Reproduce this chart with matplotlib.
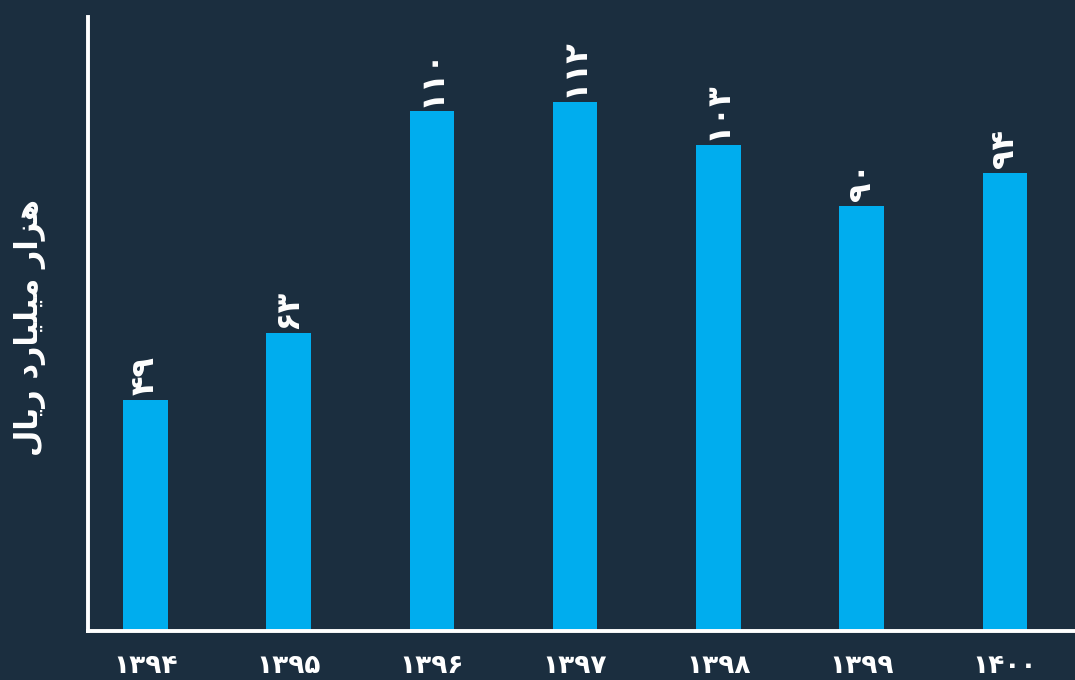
import matplotlib
matplotlib.use('Agg')
import matplotlib.pyplot as plt

# data
years = ['۱۳۹۴', '۱۳۹۵', '۱۳۹۶', '۱۳۹۷', '۱۳۹۸', '۱۳۹۹', '۱۴۰۰']
values = [49, 63, 110, 112, 103, 90, 97]
value_labels = ['۴۹', '۶۳', '۱۱۰', '۱۱۲', '۱۰۳', '۹۰', '۹۴']

# "هزار میلیارد ریال" in presentation forms, visual (left-to-right) order
ylabel_logical = ('\uFEEB\uFEB0\uFE8D\uFEAD' + ' ' +
                  '\uFEE3\uFEF4\uFEE0\uFEF4\uFE8E\uFEAD\uFEA9' + ' ' +
                  '\uFEAD\uFEF3\uFE8E\uFEDD')
ylabel_text = ylabel_logical[::-1]

bg = '#1b2e3f'
bar_color = '#00adee'

fig = plt.figure(figsize=(10.75, 6.8), dpi=100, facecolor=bg)
ax = fig.add_axes([88 / 1075, 1 - 631 / 680, 1 - 88 / 1075, (631 - 17) / 680])
ax.set_facecolor(bg)

x = list(range(len(values)))
ax.bar(x, values, width=0.31, color=bar_color, zorder=2)

for xi, v, lab in zip(x, values, value_labels):
    ax.text(xi, v + 1.0, lab, rotation=90, ha='center', va='bottom',
            color='white', fontsize=23, fontweight='bold',
            family=['DejaVu Sans'])

ax.set_xlim(-0.4, 6.49)
ax.set_ylim(0, 130)
ax.set_xticks(x)
ax.set_xticklabels(years, color='white', fontsize=19, fontweight='bold')
ax.tick_params(axis='x', length=0, pad=16)
ax.set_yticks([])

for s in ['top', 'right']:
    ax.spines[s].set_visible(False)
for s in ['left', 'bottom']:
    ax.spines[s].set_color('white')
    ax.spines[s].set_linewidth(2.8)

fig.text(30 / 1075, 1 - 327 / 680, ylabel_text, rotation=90, ha='center',
         va='center', color='white', fontsize=22, fontweight='bold')

fig.savefig('out.png', dpi=100, facecolor=bg)
